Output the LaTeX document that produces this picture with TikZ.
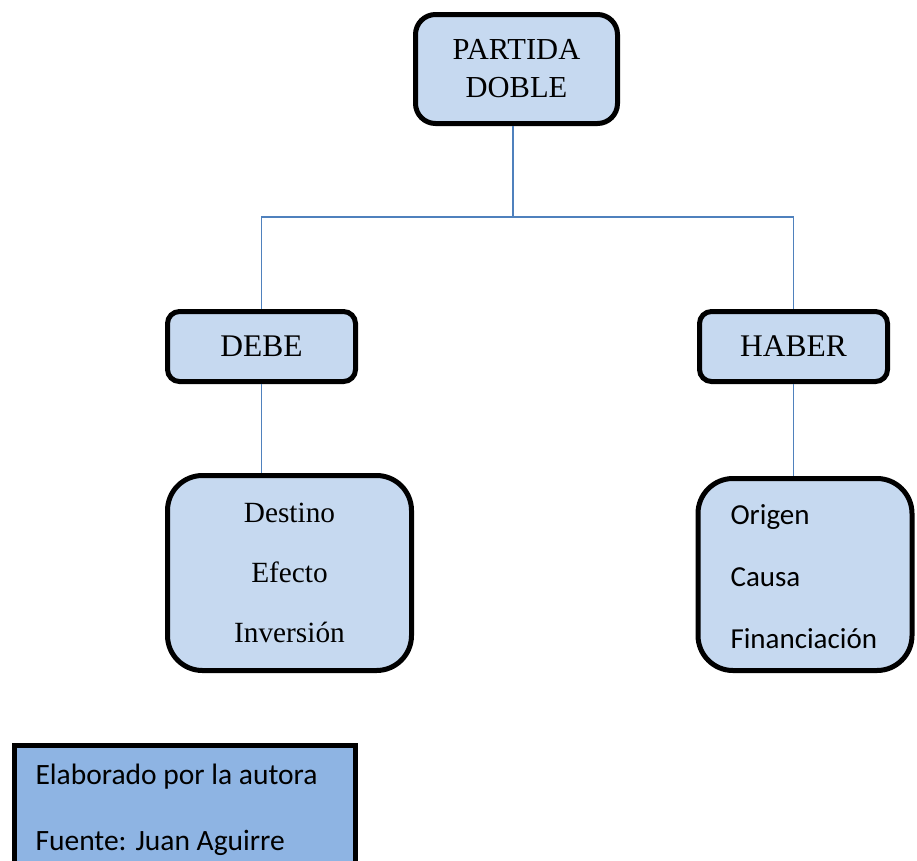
\documentclass[tikz,border=0pt]{standalone}
\usepackage{fontspec}
\setmainfont{Liberation Serif}
\newfontfamily\calfont{Carlito}
\definecolor{boxfill}{HTML}{C6D9F0}
\definecolor{notefill}{HTML}{8EB4E3}
\definecolor{linecol}{HTML}{4F81BD}
\begin{document}
\begin{tikzpicture}[x=1pt,y=-1pt,
  box/.style={draw=black, line width=5pt, fill=boxfill, inner sep=0pt},
  conn/.style={draw=linecol, line width=1.5pt},
  serif/.style={font=\fontsize{30.5}{38}\selectfont, text=black},
  sans/.style={font=\calfont\fontsize{29}{62}\selectfont, text=black}]
\useasboundingbox (0,0) rectangle (917,860);
\clip (0,0) rectangle (917,860);
% boxes
\node[box, rounded corners=20pt, minimum width=202pt, minimum height=109pt,
  serif, align=center] (top) at (516.5,69) {PARTIDA\\DOBLE};
\node[box, rounded corners=12pt, minimum width=188pt, minimum height=70pt,
  font=\fontsize{31.5}{38}\selectfont] (debe) at (261.5,346.5) {DEBE};
\node[box, rounded corners=12pt, minimum width=188pt, minimum height=70pt,
  font=\fontsize{31.5}{38}\selectfont] (haber) at (793.5,346.5) {HABER};
\node[box, rounded corners=35pt, minimum width=244pt, minimum height=195pt,
  align=center, font=\fontsize{29.3}{60}\selectfont] (debelist) at (289.5,573)
  {Destino\\Efecto\\Inversión};
\node[box, rounded corners=35pt, minimum width=214pt, minimum height=192pt]
  (haberbox) at (805,574.5) {};
\node[sans, anchor=west, align=left] (haberlist) at (727,577)
  {Origen\\Causa\\Financiación};
\node[draw=black, line width=5pt, fill=notefill, minimum width=341pt,
  minimum height=130pt, inner sep=0pt] (note) at (185,810.5) {};
\node[font=\calfont\fontsize{29.5}{66}\selectfont, anchor=west, align=left]
  (notetext) at (32,810) {Elaborado por la autora\\Fuente: Juan Aguirre};
% connectors
\coordinate (junction) at (513,217);
\draw[conn] (top.south -| junction) -- (junction);
\draw[conn] (junction) -| (debe.north);
\draw[conn] (junction) -| (haber.north);
\draw[conn] (debe.south) -- (debelist.north -| debe.south);
\draw[conn] (haber.south) -- (haberbox.north -| haber.south);
\end{tikzpicture}
\end{document}
